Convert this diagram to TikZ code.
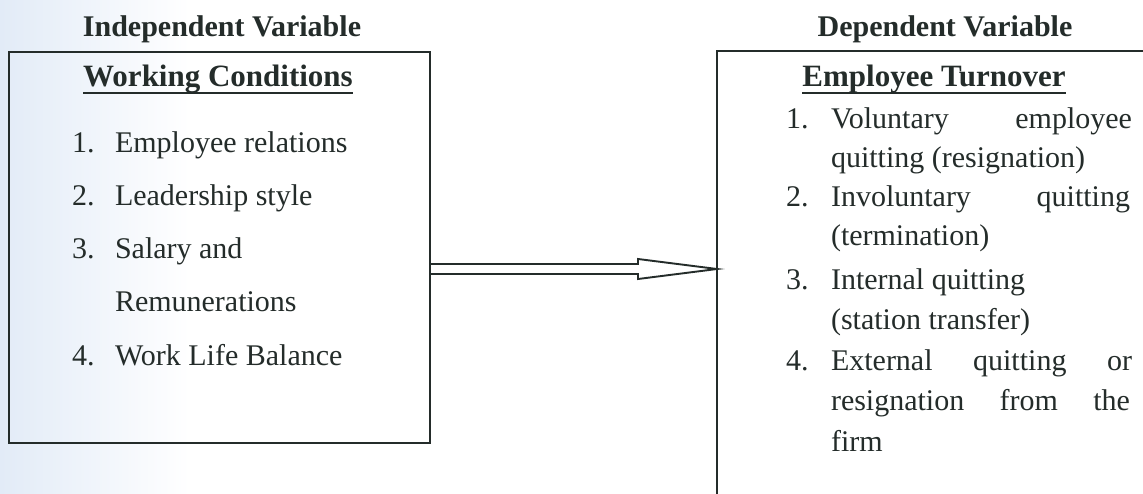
\documentclass[tikz,border=0pt]{standalone}
\usepackage{fontspec}
\setmainfont{Liberation Serif}
\definecolor{ink}{RGB}{36,44,42}
\definecolor{scanblue}{RGB}{226,235,247}
\begin{document}
\begin{tikzpicture}[x=1pt,y=-1pt,
  every node/.style={inner sep=0pt,outer sep=0pt,text=ink},
  txt/.style={anchor=base west,font=\fontsize{30}{36}\selectfont},
  num/.style={anchor=base west,font=\fontsize{30}{36}\selectfont},
  ttl/.style={anchor=base,font=\fontsize{30}{36}\selectfont\bfseries},
  boxttl/.style={anchor=base,font=\fontsize{31}{37}\selectfont\bfseries},
  boxframe/.style={draw=ink,line width=2.3pt,rectangle},
  uline/.style={draw=ink,line width=2pt},
  arrowline/.style={draw=ink,line width=1.9pt,line join=miter}]
\useasboundingbox (0,0) rectangle (1143,494);
\clip (0,0) rectangle (1143,494);
\fill[white] (0,0) rectangle (1143,494);
\shade[left color=scanblue,right color=white] (0,0) rectangle (190,494);

% headings
\node[ttl] (hin) at (222,37) {Independent Variable};
\node[ttl] (hdep) at (945,37) {Dependent Variable};

% boxes
\node[boxframe,minimum width=421pt,minimum height=391pt] (L) at (219.5,247.5) {};
\node[boxframe,minimum width=460pt,minimum height=480pt] (R) at (947,291) {};

% box titles
\node[boxttl] (wc) at (218,87) {Working Conditions};
\draw[uline] ([yshift=-6pt]wc.base west) -- ([yshift=-6pt]wc.base east);
\node[boxttl] (et) at (934,87) {Employee Turnover};
\draw[uline] ([yshift=-6pt]et.base west) -- ([yshift=-6pt]et.base east);

% left list
\node[num] (l1n) at (72,153) {1.};
\node[txt] (l1) at (115,153) {Employee relations};
\node[num] (l2n) at (72,206) {2.};
\node[txt] (l2) at (115,206) {Leadership style};
\node[num] (l3n) at (72,259) {3.};
\node[txt] (l3) at (115,259) {Salary and};
\node[txt] (l3b) at (115,312) {Remunerations};
\node[num] (l4n) at (72,365) {4.};
\node[txt] (l4) at (115,365) {Work Life Balance};

% right list
\node[num] (r1n) at (786,129) {1.};
\node[txt] (r1) at (831,129) {\hbox to 301pt{Voluntary\hfill employee}};
\node[txt] (r1b) at (831,168) {quitting (resignation)};
\node[num] (r2n) at (786,207) {2.};
\node[txt] (r2) at (831,207) {\hbox to 299pt{Involuntary\hfill quitting}};
\node[txt] (r2b) at (831,246) {(termination)};
\node[num] (r3n) at (786,290) {3.};
\node[txt] (r3) at (831,290) {Internal quitting};
\node[txt] (r3b) at (831,330) {(station transfer)};
\node[num] (r4n) at (786,370) {4.};
\node[txt] (r4) at (831,370) {\hbox to 301pt{External\hfill quitting\hfill or}};
\node[txt] (r4b) at (831,410) {\hbox to 299pt{resignation\hfill from\hfill the}};
\node[txt] (r4c) at (831,451) {firm};

% hollow arrow
\draw[arrowline] (L.east |- 0,264) -- (638,264) -- (638,259) -- (R.west |- 0,269)
  -- (638,279) -- (638,274) -- (L.east |- 0,274);
\end{tikzpicture}
\end{document}
